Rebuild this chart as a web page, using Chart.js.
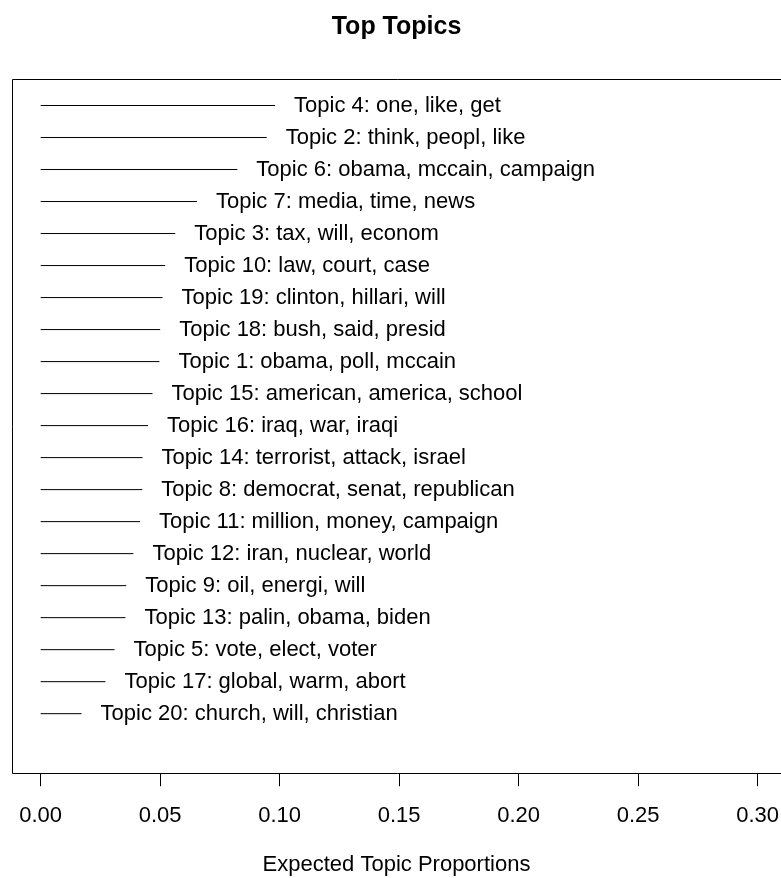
<!DOCTYPE html>
<html>
<head>
<meta charset="utf-8">
<script src="https://cdn.jsdelivr.net/npm/chart.js@4.4.1/dist/chart.umd.min.js"></script>
<style>
  body { margin: 0; background: #fff; }
  #wrap { width: 781px; height: 878px; }
</style>
</head>
<body>
<div id="wrap"><canvas id="chartTopics" width="781" height="878"></canvas></div>
<script>
// Datos (de arriba hacia abajo)
const topicLabels = [
  "Topic 4: one, like, get",
  "Topic 2: think, peopl, like",
  "Topic 6: obama, mccain, campaign",
  "Topic 7: media, time, news",
  "Topic 3: tax, will, econom",
  "Topic 10: law, court, case",
  "Topic 19: clinton, hillari, will",
  "Topic 18: bush, said, presid",
  "Topic 1: obama, poll, mccain",
  "Topic 15: american, america, school",
  "Topic 16: iraq, war, iraqi",
  "Topic 14: terrorist, attack, israel",
  "Topic 8: democrat, senat, republican",
  "Topic 11: million, money, campaign",
  "Topic 12: iran, nuclear, world",
  "Topic 9: oil, energi, will",
  "Topic 13: palin, obama, biden",
  "Topic 5: vote, elect, voter",
  "Topic 17: global, warm, abort",
  "Topic 20: church, will, christian"
];
const topicValues = [
  0.0981, 0.0946, 0.0823, 0.0654, 0.0563, 0.0521, 0.0510, 0.0500, 0.0497, 0.0468,
  0.0449, 0.0426, 0.0425, 0.0416, 0.0388, 0.0358, 0.0355, 0.0309, 0.0271, 0.0171
];
const tickValues = [0, 0.05, 0.10, 0.15, 0.20, 0.25, 0.30];

const FONT = "'Liberation Sans', Arial, Helvetica, sans-serif";

// una linea por tema, de 0 al valor
const datasets = topicValues.map((v, i) => ({
  data: [{ x: 0, y: i + 1 }, { x: v, y: i + 1 }],
  showLine: true,
  borderColor: "#000",
  borderWidth: 1,
  pointRadius: 0
}));

// etiquetas de texto a la derecha de cada linea
const labelPlugin = {
  id: "topicLabels",
  afterDatasetsDraw(chart) {
    const ctx = chart.ctx;
    const xs = chart.scales.x;
    const ys = chart.scales.y;
    ctx.save();
    ctx.font = "22px " + FONT;
    ctx.fillStyle = "#000";
    ctx.textAlign = "left";
    ctx.textBaseline = "middle";
    topicLabels.forEach((label, i) => {
      ctx.fillText(label, xs.getPixelForValue(topicValues[i]) + 19, ys.getPixelForValue(i + 1));
    });
    ctx.restore();
  }
};

// marco (sin borde derecho, queda fuera del lienzo)
const framePlugin = {
  id: "frame",
  afterDraw(chart) {
    const { left, top, right, bottom } = chart.chartArea;
    const ctx = chart.ctx;
    ctx.save();
    ctx.strokeStyle = "#000";
    ctx.lineWidth = 1;
    ctx.beginPath();
    ctx.moveTo(right + 5, Math.round(top) + 0.5);
    ctx.lineTo(Math.round(left) + 0.5, Math.round(top) + 0.5);
    ctx.lineTo(Math.round(left) + 0.5, Math.round(bottom) + 0.5);
    ctx.lineTo(right + 5, Math.round(bottom) + 0.5);
    ctx.stroke();
    ctx.restore();
  }
};

new Chart(document.getElementById("chartTopics"), {
  type: "scatter",
  data: { datasets },
  options: {
    responsive: false,
    animation: false,
    layout: { padding: { left: 12, right: 0, top: 0, bottom: 0 } },
    plugins: {
      legend: { display: false },
      tooltip: { enabled: false },
      title: {
        display: true,
        text: "Top Topics",
        color: "#000",
        font: { family: FONT, size: 25, weight: "bold" },
        padding: { top: 12, bottom: 37 }
      }
    },
    scales: {
      x: {
        type: "linear",
        min: -0.012,
        max: 0.3098,
        afterBuildTicks: scale => {
          scale.ticks = tickValues.map(v => ({ value: v }));
        },
        afterFit: scale => {
          // sin margen extra a los lados
          scale.paddingLeft = 0;
          scale.paddingRight = 0;
        },
        ticks: {
          autoSkip: false,
          maxRotation: 0,
          color: "#000",
          padding: 17,
          font: { family: FONT, size: 22 },
          callback: v => Number(v).toFixed(2)
        },
        grid: {
          drawOnChartArea: false,
          drawTicks: true,
          tickLength: 13,
          color: "#000"
        },
        border: { display: false },
        title: {
          display: true,
          text: "Expected Topic Proportions",
          color: "#000",
          font: { family: FONT, size: 22 },
          padding: { top: 5, bottom: 0 }
        }
      },
      y: {
        type: "linear",
        display: false,
        reverse: true,
        min: 0.171875,
        max: 21.859375
      }
    }
  },
  plugins: [labelPlugin, framePlugin]
});
</script>
</body>
</html>
